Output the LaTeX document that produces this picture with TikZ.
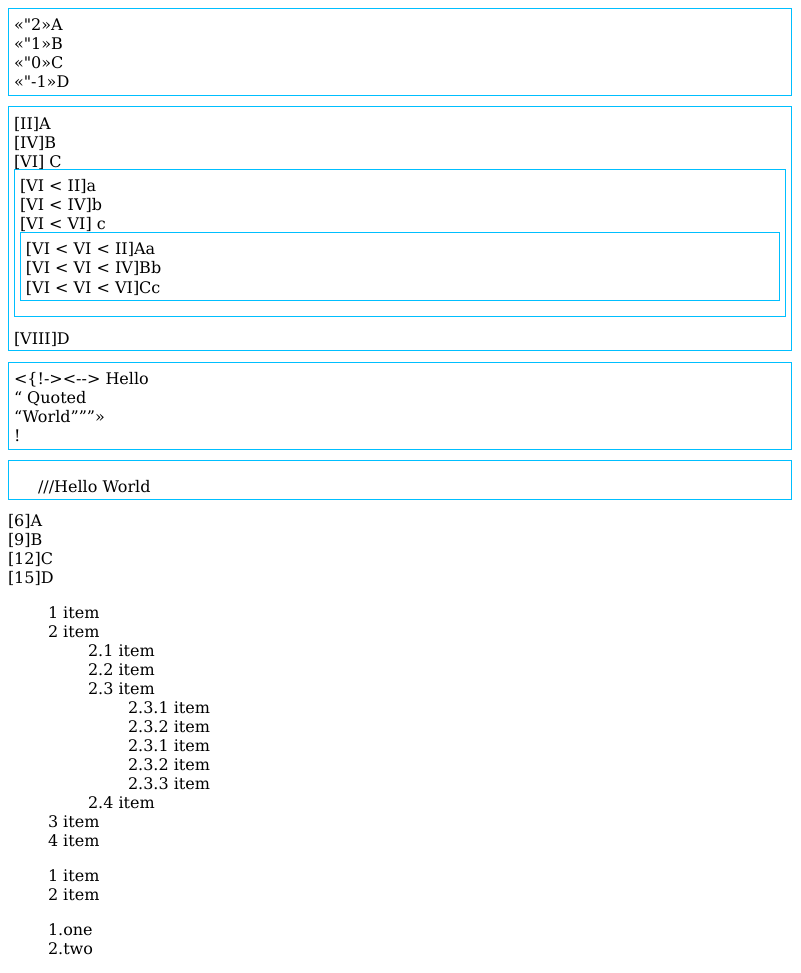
\documentclass[tikz,border=0pt]{standalone}
\usepackage{fontspec}
\setmainfont{DejaVu Serif}[Ligatures=TeXOff]
\definecolor{boxcyan}{HTML}{00BFFF}
\begin{document}
\begin{tikzpicture}[x=0.75pt,y=-0.75pt,
  frame/.style={draw=boxcyan,line width=0.75pt},
  txt/.style={anchor=base west,inner sep=0pt,outer sep=0pt,yshift=-0.75pt,font=\fontsize{12pt}{14pt}\selectfont}]
\useasboundingbox (0,0) rectangle (800,973);
% boxes
\draw[frame] (8.5,8.5) rectangle (791.5,95.5);
\draw[frame] (8.5,106.5) rectangle (791.5,350.5);
\draw[frame] (14.5,169.5) rectangle (785.5,316.5);
\draw[frame] (20.5,232.5) rectangle (779.5,300.5);
\draw[frame] (8.5,362.5) rectangle (791.5,449.5);
\draw[frame] (8.5,460.5) rectangle (791.5,499.5);
% box 1
\node[txt] (a1) at (14,29.5) {«"2»A};
\node[txt] (a2) at (14,48.5) {«"1»B};
\node[txt] (a3) at (14,67.5) {«"0»C};
\node[txt] (a4) at (14,86.5) {«"-1»D};
% box 2
\node[txt] (b1) at (14,128.5) {[II]A};
\node[txt] (b2) at (14,147.5) {[IV]B};
\node[txt] (b3) at (14,166.5) {[VI] C};
\node[txt] (c1) at (20,191) {[VI < II]a};
\node[txt] (c2) at (20,210) {[VI < IV]b};
\node[txt] (c3) at (20,229) {[VI < VI] c};
\node[txt] (d1) at (26,254) {[VI < VI < II]Aa};
\node[txt] (d2) at (26,273) {[VI < VI < IV]Bb};
\node[txt] (d3) at (26,292) {[VI < VI < VI]Cc};
\node[txt] (b4) at (14,343.5) {[VIII]D};
% box 3
\node[txt] (e1) at (14,383.5) {<\{!-><--> Hello};
\node[txt] (e2) at (14,402.5) {“ Quoted};
\node[txt] (e3) at (14,421.5) {“World”””»};
\node[txt] (e4) at (14,440.5) {!};
% box 4
\node[txt] (f1) at (38,491) {///Hello World};
% plain
\node[txt] (g1) at (8,525.5) {[6]A};
\node[txt] (g2) at (8,544.5) {[9]B};
\node[txt] (g3) at (8,563.5) {[12]C};
\node[txt] (g4) at (8,582.5) {[15]D};
% list
\node[txt] (h1) at (48,617.5) {1 item};
\node[txt] (h2) at (48,636.5) {2 item};
\node[txt] (h3) at (88,655.5) {2.1 item};
\node[txt] (h4) at (88,674.5) {2.2 item};
\node[txt] (h5) at (88,693.5) {2.3 item};
\node[txt] (h6) at (128,712.5) {2.3.1 item};
\node[txt] (h7) at (128,731.5) {2.3.2 item};
\node[txt] (h8) at (128,750.5) {2.3.1 item};
\node[txt] (h9) at (128,769.5) {2.3.2 item};
\node[txt] (h10) at (128,788.5) {2.3.3 item};
\node[txt] (h11) at (88,807.5) {2.4 item};
\node[txt] (h12) at (48,826.5) {3 item};
\node[txt] (h13) at (48,845.5) {4 item};
\node[txt] (i1) at (48,880.5) {1 item};
\node[txt] (i2) at (48,899.5) {2 item};
\node[txt] (j1) at (48,934) {1.one};
\node[txt] (j2) at (48,953) {2.two};
\end{tikzpicture}
\end{document}
